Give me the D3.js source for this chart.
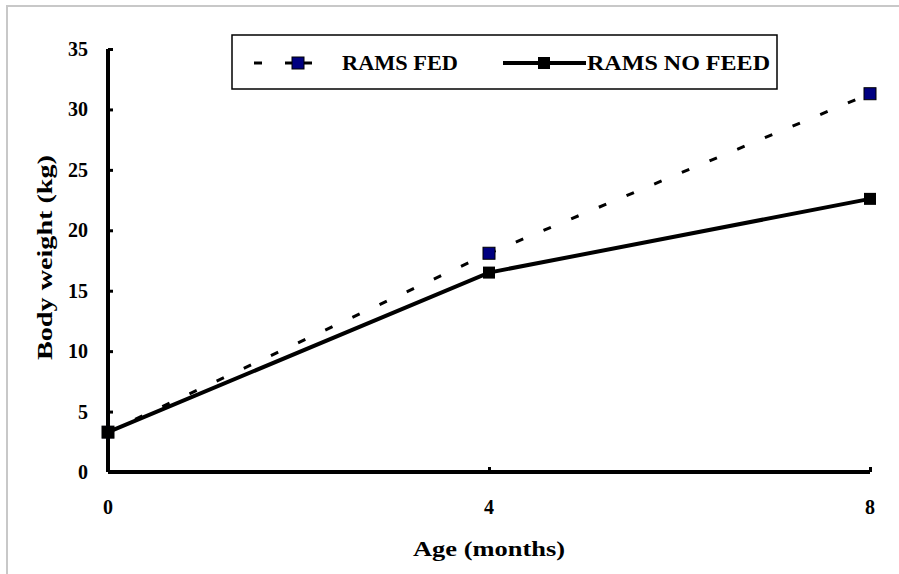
<!DOCTYPE html>
<html>
<head>
<meta charset="utf-8">
<script src="https://cdn.jsdelivr.net/npm/d3@7"></script>
<style>
  body { margin: 0; background: #fff; }
</style>
</head>
<body>
<div id="chart"></div>
<script>
var ages = [0, 4, 8];
var ramsFed = [3.3, 18.1, 31.3];
var ramsNoFeed = [3.3, 16.5, 22.6];
var yTicks = [0, 5, 10, 15, 20, 25, 30, 35];
var seriesNames = ["RAMS FED", "RAMS NO FEED"];

var width = 899, height = 574;
var margin = { top: 49, left: 108, right: 29, bottom: 102 };
var serif = "'Liberation Serif', 'Times New Roman', Times, 'DejaVu Serif', serif";

var svg = d3.select("#chart")
  .append("svg")
  .attr("width", width)
  .attr("height", height)
  .style("font-family", serif)
  .style("font-weight", "bold");

// light grey frame (only top and left visible)
svg.append("path")
  .attr("d", "M7,574 V6 H899")
  .attr("fill", "none")
  .attr("stroke", "#c8c8c8")
  .attr("stroke-width", 2);

var x = d3.scaleLinear().domain([0, 8]).range([margin.left, width - margin.right]);
var y = d3.scaleLinear().domain([0, 35]).range([height - margin.bottom, margin.top]);

// y axis
var yAxis = d3.axisRight(y).tickValues(yTicks).tickSize(5).tickFormat("");
var gy = svg.append("g")
  .attr("transform", "translate(" + margin.left + ",0)")
  .call(yAxis);
gy.select(".domain").attr("stroke", "#000").attr("stroke-width", 4)
  .attr("d", "M0," + y(0) + "V" + y(35));
gy.selectAll(".tick line").attr("stroke", "#000").attr("stroke-width", 3);

svg.selectAll(".ylabel")
  .data(yTicks)
  .enter().append("text")
  .attr("class", "ylabel")
  .attr("x", margin.left - 20)
  .attr("y", function(d) { return y(d); })
  .attr("dy", "0.35em")
  .attr("text-anchor", "end")
  .attr("font-size", 20)
  .text(function(d) { return d; });

// x axis
var xAxis = d3.axisTop(x).tickValues(ages).tickSize(5).tickFormat("");
var gx = svg.append("g")
  .attr("transform", "translate(0," + y(0) + ")")
  .call(xAxis);
gx.select(".domain").attr("stroke", "#000").attr("stroke-width", 4)
  .attr("d", "M" + x(0) + ",0H" + x(8));
gx.selectAll(".tick line").attr("stroke", "#000").attr("stroke-width", 3);

svg.selectAll(".xlabel")
  .data(ages)
  .enter().append("text")
  .attr("class", "xlabel")
  .attr("x", function(d) { return x(d); })
  .attr("y", y(0) + 42)
  .attr("text-anchor", "middle")
  .attr("font-size", 20)
  .text(function(d) { return d; });

// axis titles
svg.append("text")
  .attr("x", 413)
  .attr("y", 556)
  .attr("font-size", 21)
  .attr("textLength", 152)
  .attr("lengthAdjust", "spacingAndGlyphs")
  .text("Age (months)");

svg.append("text")
  .attr("transform", "translate(52,360) rotate(-90)")
  .attr("font-size", 21)
  .attr("textLength", 205)
  .attr("lengthAdjust", "spacingAndGlyphs")
  .text("Body weight (kg)");

var line = d3.line()
  .x(function(d) { return x(d[0]); })
  .y(function(d) { return y(d[1]); });

var fedData = ages.map(function(a, i) { return [a, ramsFed[i]]; });
var noFeedData = ages.map(function(a, i) { return [a, ramsNoFeed[i]]; });

svg.append("path")
  .datum(fedData)
  .attr("d", line)
  .attr("fill", "none")
  .attr("stroke", "#000")
  .attr("stroke-width", 3)
  .attr("stroke-dasharray", "8,22");

svg.append("path")
  .datum(noFeedData)
  .attr("d", line)
  .attr("fill", "none")
  .attr("stroke", "#000")
  .attr("stroke-width", 4);

svg.selectAll(".fed")
  .data(fedData)
  .enter().append("rect")
  .attr("class", "fed")
  .attr("x", function(d) { return x(d[0]) - 6; })
  .attr("y", function(d) { return y(d[1]) - 6; })
  .attr("width", 12)
  .attr("height", 12)
  .attr("fill", "#000080")
  .attr("stroke", "#000")
  .attr("stroke-width", 1);

svg.selectAll(".nofeed")
  .data(noFeedData)
  .enter().append("rect")
  .attr("class", "nofeed")
  .attr("x", function(d) { return x(d[0]) - 6; })
  .attr("y", function(d) { return y(d[1]) - 6; })
  .attr("width", 12)
  .attr("height", 12)
  .attr("fill", "#000");

// legend
var legend = svg.append("g");
legend.append("rect")
  .attr("x", 232)
  .attr("y", 35)
  .attr("width", 545)
  .attr("height", 54)
  .attr("fill", "#fff")
  .attr("stroke", "#000")
  .attr("stroke-width", 1.5);

var ly = 63;
// dashed sample
[[254, 262], [285, 292], [304, 312]].forEach(function(s) {
  legend.append("line")
    .attr("x1", s[0]).attr("x2", s[1])
    .attr("y1", ly).attr("y2", ly)
    .attr("stroke", "#000").attr("stroke-width", 3);
});
legend.append("rect")
  .attr("x", 292).attr("y", ly - 6)
  .attr("width", 12).attr("height", 12)
  .attr("fill", "#000080").attr("stroke", "#000");
legend.append("text")
  .attr("x", 342).attr("y", ly).attr("dy", "0.35em")
  .attr("font-size", 20)
  .attr("textLength", 116)
  .attr("lengthAdjust", "spacingAndGlyphs")
  .text(seriesNames[0]);

legend.append("line")
  .attr("x1", 503).attr("x2", 586)
  .attr("y1", ly).attr("y2", ly)
  .attr("stroke", "#000").attr("stroke-width", 4);
legend.append("rect")
  .attr("x", 538).attr("y", ly - 6)
  .attr("width", 12).attr("height", 12)
  .attr("fill", "#000");
legend.append("text")
  .attr("x", 587).attr("y", ly).attr("dy", "0.35em")
  .attr("font-size", 20)
  .attr("textLength", 183)
  .attr("lengthAdjust", "spacingAndGlyphs")
  .text(seriesNames[1]);
</script>
</body>
</html>
